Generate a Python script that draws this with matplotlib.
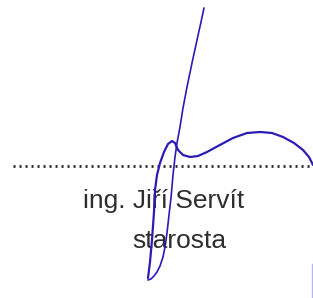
import matplotlib
matplotlib.use("Agg")
import matplotlib.pyplot as plt

# signature strokes (pixel coords, y down)
stroke1_x = [148, 150, 152, 154, 155, 157, 160, 164, 168, 172, 175, 178, 183, 190, 198, 207, 218, 233, 247, 260, 272, 283, 294, 303, 309, 313]
stroke1_y = [278, 262, 240, 212, 190, 175, 163, 152, 144, 141, 143, 150, 155, 157, 156, 152, 146, 138, 133, 132, 133, 137, 143, 150, 157, 165]
stroke2_x = [204, 201, 197, 192, 187, 183, 180, 177, 175, 173, 171, 169, 167, 165, 163, 160, 157, 154, 151, 148]
stroke2_y = [8, 22, 40, 63, 87, 108, 127, 143, 157, 175, 198, 215, 233, 247, 257, 266, 272, 276, 279, 280]
edge_x = [312, 312]
edge_y = [264, 298]

dots_x = [13, 313]
dots_y = [166, 166]

name = "ing. Jiří Servít"
title = "starosta"

fig = plt.figure(figsize=(3.13, 2.98), dpi=100)
ax = fig.add_axes([0, 0, 1, 1])
ax.set_xlim(0, 313)
ax.set_ylim(298, 0)
ax.axis("off")

ax.plot(dots_x, dots_y, color="#2e2e2e", lw=2.0, linestyle=(0, (0.75, 1.41)))
ax.text(83, 208, name, fontsize=19, family="Liberation Sans", color="#2e2e2e", va="baseline", ha="left")
ax.text(132, 248, title, fontsize=19, family="Liberation Sans", color="#2e2e2e", va="baseline", ha="left")

sig = "#2a1cb4"
ax.plot(stroke1_x, stroke1_y, color=sig, lw=1.6, solid_capstyle="round", solid_joinstyle="round", zorder=5)
ax.plot(stroke2_x, stroke2_y, color=sig, lw=1.2, solid_capstyle="round", solid_joinstyle="round", zorder=5)
ax.plot(edge_x, edge_y, color="#b9b4f0", lw=1.0, zorder=5)

fig.savefig("out.png", dpi=100)
